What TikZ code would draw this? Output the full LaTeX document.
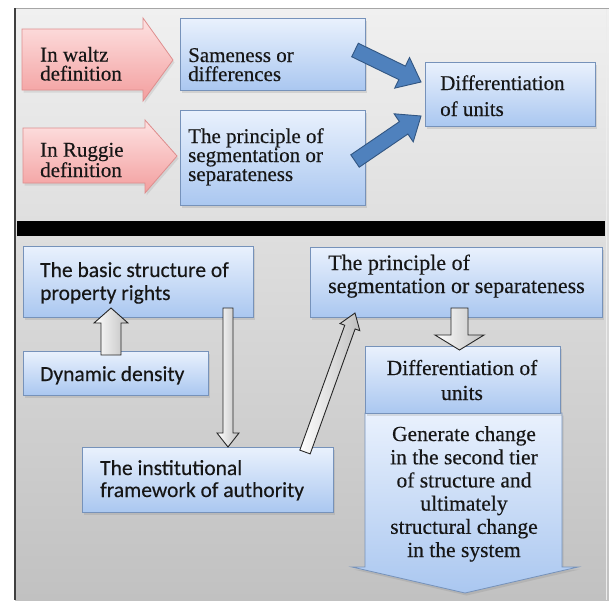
\documentclass[tikz,border=0pt]{standalone}
\usepackage{fontspec}
\setmainfont{Liberation Serif}
\newfontfamily\timesfont{Liberation Serif}[FakeBold=0.35]
\newfontfamily\calibrifont{Carlito}[FakeBold=0.25]
\usetikzlibrary{calc,shadows}

\definecolor{boxtop}{RGB}{233,241,253}
\definecolor{boxbot}{RGB}{170,199,240}
\definecolor{boxline}{RGB}{118,146,186}
\definecolor{pinktop}{RGB}{253,226,226}
\definecolor{pinkbot}{RGB}{243,158,158}
\definecolor{pinkline}{RGB}{222,142,142}
\definecolor{arrowblue}{RGB}{79,129,189}
\definecolor{arrowline}{RGB}{50,86,130}
\definecolor{bgtop}{RGB}{240,240,240}
\definecolor{bgbot}{RGB}{193,193,193}
\definecolor{ink}{RGB}{22,22,22}

% block arrow from #2 to #3: style, shaft half width, head half width, head length
\newcommand{\blockarrow}[6]{%
  \coordinate (ba-h) at ($(#3)!#6!(#2)$);
  \path[#1] ($(#2)!#4!90:(#3)$) -- ($(ba-h)!#4!-90:(#2)$) -- ($(ba-h)!#5!-90:(#2)$)
    -- (#3) -- ($(ba-h)!#5!90:(#2)$) -- ($(ba-h)!#4!90:(#2)$) -- ($(#2)!#4!-90:(#3)$) -- cycle;
}

\tikzset{
  bluebox/.style={draw=boxline, line width=0.8pt, top color=boxtop, bottom color=boxbot,
    inner sep=0pt, anchor=north west,
    drop shadow={shadow xshift=1.5pt, shadow yshift=-2.5pt, opacity=0.22}},
  pinkarrow/.style={draw=pinkline, line width=0.8pt, top color=pinktop, bottom color=pinkbot,
    drop shadow={shadow xshift=1.5pt, shadow yshift=-2.5pt, opacity=0.18}},
  bluearrow/.style={draw=arrowline, line width=0.9pt, fill=arrowblue},
  hollowarrow/.style={draw=black!85, line width=0.9pt, left color=white, right color=gray!50},
  % multi-line text nodes are anchored at the baseline of their last line
  serif/.style={font=\timesfont\fontsize{21}{19}\selectfont, text=ink, inner sep=0pt, align=left, anchor=base west},
  serifc/.style={font=\timesfont\fontsize{21.5}{23.2}\selectfont, text=ink, inner sep=0pt, align=center, anchor=base},
  sans/.style={font=\calibrifont\fontsize{21.5}{23}\selectfont, text=ink, inner sep=0pt, align=left, anchor=base west},
}

\begin{document}
\begin{tikzpicture}[x=1pt, y=-1pt]
\useasboundingbox (0,0) rectangle (609,600);
\fill[white] (0,0) rectangle (609,600);

% panel background and frame
\shade[top color=bgtop, bottom color=bgbot] (15,8) rectangle (609,600);
\draw[gray!70, line width=0.8pt] (15,8) -- (609,8);
\draw[black!75, line width=2pt] (15,8) -- (15,600);
\draw[white!85!gray, line width=1pt] (606,9) -- (606,600);
\fill[black] (17,221) rectangle (605,236);

% ---------- upper part ----------
\path[pinkarrow] (22,29) -- (143,29) -- (143,18) -- (173,60) -- (143,101) -- (143,90) -- (22,90) -- cycle;
\path[pinkarrow] (23,128) -- (145,128) -- (145,120) -- (177,156) -- (145,193) -- (145,183) -- (23,183) -- cycle;

\node[bluebox, minimum width=185pt, minimum height=72pt] (same) at (180,18) {};
\node[bluebox, minimum width=185pt, minimum height=95pt] (prin1) at (180,110) {};
\node[bluebox, minimum width=170pt, minimum height=64pt] (diff1) at (425,62) {};

\coordinate (b1s) at (355,50);
\coordinate (b1e) at (421,82);
\coordinate (b2s) at (355,161);
\coordinate (b2e) at (421,116);
\blockarrow{bluearrow}{b1s}{b1e}{7.5pt}{17pt}{21pt}
\blockarrow{bluearrow}{b2s}{b2e}{7.5pt}{17pt}{21pt}

\node[serif] (t-waltz) at (40,80.5) {In waltz\\definition};
\node[serif] (t-ruggie) at (40,177) {In Ruggie\\definition};
\node[serif] (t-same) at (188,81) {Sameness or\\differences};
\node[serif] (t-prin1) at (188,181) {The principle of\\segmentation or\\separateness};
\node[serif, font=\timesfont\fontsize{21}{26}\selectfont] (t-diff1) at (440,116) {Differentiation\\of units};

% ---------- lower part ----------
\node[bluebox, minimum width=230pt, minimum height=71pt] (basic) at (23,246) {};
\node[bluebox, minimum width=185pt, minimum height=44pt] (dyn) at (23,351) {};
\node[bluebox, minimum width=251pt, minimum height=65pt] (inst) at (82,447) {};
\node[bluebox, minimum width=292pt, minimum height=70pt] (prin2) at (310,247) {};
\path[bluebox]
  (365,413) -- (562,413) -- (562,567) -- (578,567) -- (465,593) -- (352,567) -- (365,567) -- cycle;
\node[bluebox, minimum width=195pt, minimum height=67pt] (diff2) at (365,346) {};

\coordinate (u-s) at (111,355);
\coordinate (u-e) at (111,308);
\coordinate (l-s) at (228,308);
\coordinate (l-e) at (228,447);
\coordinate (g-s) at (305,452);
\coordinate (g-e) at (355,313);
\coordinate (d-s) at (459.5,308);
\coordinate (d-e) at (459.5,350);
\blockarrow{hollowarrow}{u-s}{u-e}{10pt}{17pt}{15pt}
\blockarrow{hollowarrow}{l-s}{l-e}{5pt}{11pt}{14pt}
\blockarrow{hollowarrow}{g-s}{g-e}{5.5pt}{10.5pt}{15pt}
\blockarrow{hollowarrow}{d-s}{d-e}{8.5pt}{24.5pt}{15pt}

\node[sans] (t-basic) at (40,300) {The basic structure of\\property rights};
\node[sans] (t-dyn) at (40,381) {Dynamic density};
\node[sans, font=\calibrifont\fontsize{21.5}{22}\selectfont] (t-inst) at (100,497) {The institutional\\framework of authority};
\node[serif, font=\timesfont\fontsize{22}{23}\selectfont] (t-prin2) at (328,293) {The principle of\\segmentation or separateness};
\node[serifc, font=\timesfont\fontsize{21.5}{25}\selectfont] (t-diff2) at (462,400) {Differentiation of\\units};
\node[serifc] (t-gen) at (464,557) {Generate change\\in the second tier\\of structure and\\ultimately\\structural change\\in the system};
\end{tikzpicture}
\end{document}
